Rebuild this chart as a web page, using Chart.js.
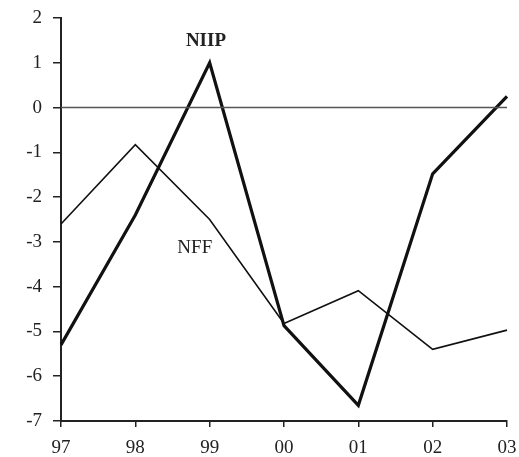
<!DOCTYPE html>
<html>
<head>
  <title>NIIP and NFF</title>
  <script src="https://cdn.jsdelivr.net/npm/chart.js"></script>
  <style>
    html, body { margin: 0; padding: 0; background: #fff; }
    #wrap { width: 519px; height: 457px; position: relative; }
  </style>
</head>
<body>
  <div id="wrap"><canvas id="myChart"></canvas></div>

  <script>
    // Dados
    var years = ['97', '98', '99', '00', '01', '02', '03'];
    var niip = [-5.3, -2.4, 1.0, -4.87, -6.65, -1.48, 0.25];
    var nff = [-2.6, -0.83, -2.5, -4.82, -4.09, -5.4, -4.97];
    var yTicks = [-7, -6, -5, -4, -3, -2, -1, 0, 1, 2];

    var serif = "'Liberation Serif', 'DejaVu Serif', serif";

    // linha do zero e rótulos das séries
    var extras = {
      id: 'extras',
      afterDatasetsDraw: function(chart) {
        var c = chart.ctx, xs = chart.scales.x, ys = chart.scales.y;
        var y0 = ys.getPixelForValue(0);
        c.save();
        c.strokeStyle = '#555';
        c.lineWidth = 1.6;
        c.beginPath();
        c.moveTo(xs.left, y0);
        c.lineTo(xs.right, y0);
        c.stroke();
        c.fillStyle = '#222';
        c.font = 'bold 19px ' + serif;
        c.textAlign = 'center';
        c.textBaseline = 'middle';
        c.fillText('NIIP', xs.getPixelForValue(1.95), ys.getPixelForValue(1.48));
        c.font = '19px ' + serif;
        c.fillText('NFF', xs.getPixelForValue(1.8), ys.getPixelForValue(-3.13));
        c.restore();
      }
    };

    var ctx = document.getElementById('myChart').getContext('2d');
    var myChart = new Chart(ctx, {
      type: 'line',
      data: {
        labels: years,
        datasets: [{
          label: 'NFF',
          data: nff,
          borderColor: '#111',
          borderWidth: 1.6,
          pointRadius: 0,
          tension: 0
        }, {
          label: 'NIIP',
          data: niip,
          borderColor: '#111',
          borderWidth: 3.2,
          pointRadius: 0,
          tension: 0
        }]
      },
      options: {
        responsive: true,
        maintainAspectRatio: false,
        animation: false,
        layout: { padding: { left: 0, right: 12, top: 18, bottom: 0 } },
        plugins: {
          legend: { display: false },
          tooltip: { enabled: false }
        },
        scales: {
          x: {
            offset: false,
            grid: { drawOnChartArea: false, color: '#222', tickLength: 6, lineWidth: 1.5 },
            border: { color: '#222', width: 2 },
            ticks: { color: '#222', font: { family: serif, size: 19 }, padding: 10, maxRotation: 0 },
            afterFit: function(s) { s.height = 36; s.paddingLeft = 0; s.paddingRight = 0; }
          },
          y: {
            min: -7,
            max: 2,
            afterBuildTicks: function(s) { s.ticks = yTicks.map(function(v) { return { value: v }; }); },
            grid: { drawOnChartArea: false, color: '#222', tickLength: 8, lineWidth: 1.5 },
            border: { color: '#222', width: 2 },
            ticks: { color: '#222', font: { family: serif, size: 19 }, padding: 11 },
            afterFit: function(s) { s.width = 61; s.paddingTop = 0; s.paddingBottom = 0; }
          }
        }
      },
      plugins: [extras]
    });
  </script>
</body>
</html>
